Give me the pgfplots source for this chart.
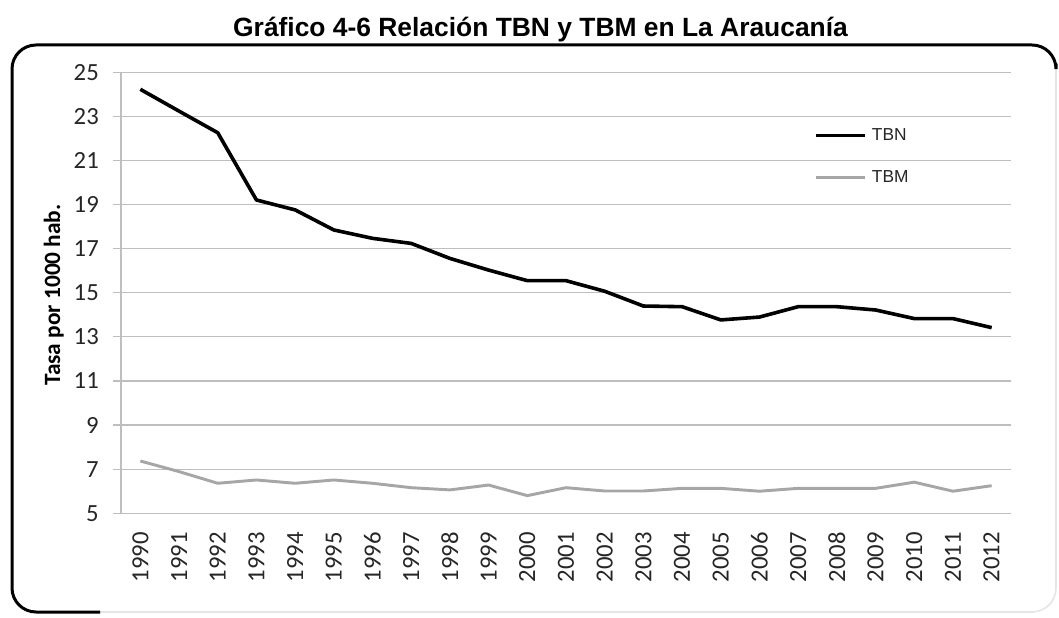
\documentclass[border=0pt]{standalone}
\usepackage{fontspec}
\setmainfont{Carlito}
\newfontfamily\arial{Liberation Sans}
\usepackage{pgfplots}
\pgfplotsset{compat=1.18}
\definecolor{gridc}{HTML}{BEBEBE}
\definecolor{tbm}{HTML}{A6A6A6}
\definecolor{txt}{HTML}{262626}
\begin{document}
\begin{tikzpicture}
\useasboundingbox (0pt,0pt) rectangle (794.25pt,462.75pt);
% frame
\draw[gray!20, line width=1.2pt, rounded corners=18pt] (9pt,3.75pt) rectangle (792pt,429pt);
\draw[black, line width=2.25pt, rounded corners=18pt] (75pt,3.75pt) -- (9pt,3.75pt) -- (9pt,429pt) -- (792pt,429pt) -- (792pt,415pt);
% title
\node[anchor=base, inner sep=0pt, font={\arial\bfseries\fontsize{19.8}{22}\selectfont}] at (405.4pt,435pt) {Gráfico 4-6 Relación TBN y TBM en La Araucanía};
\begin{axis}[
  at={(90.75pt,77.8pt)}, anchor=south west,
  scale only axis, width=667.5pt, height=330.7pt,
  xmin=1989.5, xmax=2012.5, ymin=5, ymax=25,
  xtick={1990,...,2012}, ytick={5,7,...,25},
  axis lines*=left,
  axis line style={gridc, line width=0.9pt},
  ymajorgrids, grid style={gridc, line width=0.9pt},
  tick align=outside,
  major tick length=6pt,
  ytick style={gridc, line width=0.9pt},
  xtick style={draw=none},
  /pgf/number format/assume math mode=true,
  /pgf/number format/1000 sep={},
  ticklabel style={font=\fontsize{18.5}{18.5}\selectfont, text=txt},
  yticklabel style={anchor=east, inner sep=0pt, xshift=-10.5pt},
  xticklabel style={yshift=-8pt, rotate=90, anchor=east, inner sep=0pt},
  every axis y label/.style={at={(axis description cs:-0.0755,0.495)}, rotate=90, anchor=center, font=\bfseries\fontsize{17.5}{18}\selectfont, text=black},
  ylabel={Tasa por 1000 hab.},
  legend style={at={(axis description cs:0.7787,0.809)}, anchor=west, draw=none, fill=none, inner sep=0pt, row sep=21pt, column sep=3.75pt, font={\arial\fontsize{13}{13}\selectfont}, text=txt, nodes={inner sep=0pt}},
  legend cell align=left,
  legend image code/.code={\draw[#1] (0pt,0pt) -- (36.75pt,0pt);},
]
\addplot[black, line width=2.7pt, line join=round] coordinates {
(1990,24.23) (1991,23.24) (1992,22.26) (1993,19.21) (1994,18.76) (1995,17.85)
(1996,17.47) (1997,17.24) (1998,16.56) (1999,16.03) (2000,15.55) (2001,15.55)
(2002,15.07) (2003,14.40) (2004,14.37) (2005,13.77) (2006,13.90) (2007,14.37)
(2008,14.37) (2009,14.22) (2010,13.83) (2011,13.83) (2012,13.42)};
\addlegendentry{TBN}
\addplot[tbm, line width=2.2pt, line join=round] coordinates {
(1990,7.37) (1991,6.89) (1992,6.36) (1993,6.51) (1994,6.36) (1995,6.51)
(1996,6.36) (1997,6.16) (1998,6.06) (1999,6.28) (2000,5.80) (2001,6.16)
(2002,6.01) (2003,6.01) (2004,6.13) (2005,6.13) (2006,6.00) (2007,6.13)
(2008,6.13) (2009,6.13) (2010,6.41) (2011,6.00) (2012,6.25)};
\addlegendentry{TBM}
\end{axis}
\end{tikzpicture}
\end{document}
